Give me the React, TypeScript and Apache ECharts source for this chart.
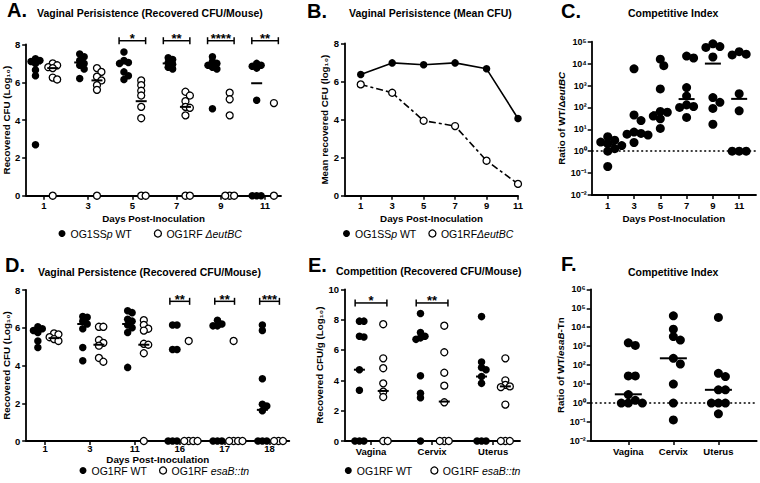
import React, { useEffect, useRef } from "react";
import * as echarts from "echarts";

const FONT = "'Liberation Sans', Arial, Helvetica, sans-serif";

// ---------------- Panel A: Vaginal persistence (recovered CFU / mouse) ----------------
const daysA = ["1", "3", "5", "7", "9", "11"];
const wtA: number[][] = [
  [7.25, 7.15, 7.1, 7.0, 6.65, 6.35, 2.7],
  [7.5, 7.35, 7.15, 7.0, 6.9, 6.7, 6.2],
  [7.6, 7.15, 7.05, 7.0, 6.55, 6.35, 6.15],
  [7.3, 7.2, 7.05, 6.95, 6.8, 6.7],
  [7.35, 7.1, 7.0, 6.9, 6.8, 6.7, 4.6],
  [7.0, 6.9, 6.85, 6.75, 5.05, 0, 0, 0],
];
const mutA: number[][] = [
  [7.0, 6.9, 6.8, 6.75, 6.25, 6.15, 0],
  [6.75, 6.55, 6.3, 6.1, 5.85, 5.6, 0],
  [6.1, 5.85, 5.55, 5.3, 4.7, 4.1, 0, 0],
  [5.5, 5.3, 5.0, 4.7, 4.65, 4.25, 0, 0],
  [5.45, 5.1, 4.25, 0, 0, 0],
  [4.9, 0],
];
const wtAMed: (number | null)[] = [7.0, 7.05, 7.0, 7.0, 6.85, 5.95];
const mutAMed: (number | null)[] = [6.75, 6.1, 5.0, 4.7, null, null];
const sigAGroups = [2, 3, 4, 5];
const sigALabels = ["*", "**", "****", "**"];
const sigALevel = 8.2;

// ---------------- Panel B: mean CFU ----------------
const daysB = [1, 3, 5, 7, 9, 11];
const wtB = [6.37, 6.98, 6.88, 6.98, 6.67, 4.06];
const mutB = [5.85, 5.41, 3.94, 3.66, 1.84, 0.62];

// ---------------- Panel C: competitive index ----------------
const daysC = ["1", "3", "5", "7", "9", "11"];
const ciC: number[][] = [
  [4.6, 3.2, 2.6, 2.2, 1.8, 1.3, 1.0, 0.2],
  [5800, 45, 25, 7.5, 6.5, 6, 5.5, 2.5],
  [16000, 8000, 700, 65, 60, 40, 30, 11],
  [22000, 18000, 800, 330, 130, 110, 100, 35],
  [80000, 60000, 55000, 20000, 280, 170, 90, 17],
  [35000, 27000, 25000, 420, 70, 1, 1, 1],
];
const ciCMed = [2.0, 6.5, 60, 240, 10000, 245];

// ---------------- Panel D: vaginal persistence (esaB) ----------------
const daysD = ["1", "3", "11", "16", "17", "18"];
const wtD: number[][] = [
  [6.05, 5.95, 5.85, 5.75, 5.3, 4.95],
  [6.6, 6.55, 6.35, 6.2, 5.95, 4.95, 4.25],
  [6.9, 6.8, 6.45, 6.35, 6.15, 6.0, 5.75, 3.9],
  [6.15, 6.15, 4.85, 4.85, 0, 0, 0],
  [6.4, 6.2, 6.1, 6.1, 0, 0, 0],
  [6.15, 5.85, 3.3, 1.95, 1.85, 1.6, 0, 0, 0],
];
const mutD: number[][] = [
  [5.7, 5.65, 5.5, 5.4, 5.3],
  [6.05, 6.05, 5.35, 5.2, 5.05, 4.4, 4.2],
  [6.4, 6.15, 5.95, 5.85, 5.15, 5.1, 4.65, 0],
  [5.3, 0, 0, 0, 0],
  [5.3, 0, 0, 0, 0],
  [0, 0, 0],
];
const wtDMed: (number | null)[] = [5.9, 6.2, 6.2, null, null, 1.65];
const mutDMed: (number | null)[] = [5.45, 5.1, 5.1, null, null, null];
const sigDGroups = [3, 4, 5];
const sigDLabels = ["**", "**", "***"];
const sigDLevel = 7.4;

// ---------------- Panel E: competition ----------------
const tissues = ["Vagina", "Cervix", "Uterus"];
const wtE: number[][] = [
  [7.9, 7.9, 6.9, 6.85, 4.7, 3.35, 0, 0, 0],
  [8.4, 7.15, 6.9, 6.8, 6.7, 4.3, 3.15, 2.85, 0],
  [8.2, 5.2, 4.85, 4.7, 4.25, 3.8, 0, 0, 0],
];
const mutE: number[][] = [
  [7.7, 5.45, 4.8, 3.8, 3.25, 2.9, 0, 0],
  [7.6, 5.85, 4.5, 3.65, 2.55, 0, 0, 0],
  [5.45, 4.0, 3.7, 3.6, 3.55, 2.4, 0, 0, 0],
];
const wtEMed = [4.7, 6.75, 4.25];
const mutEMed = [3.3, 2.6, 3.6];
const sigEGroups = [0, 1];
const sigELabels = ["*", "**"];
const sigELevel = 9.1;

// ---------------- Panel F: competitive index ----------------
const ciF: number[][] = [
  [1500, 1100, 27, 27, 2.8, 1.4, 1, 1, 1],
  [40000, 7800, 3200, 2100, 230, 115, 10, 1, 0.13],
  [33000, 37, 25, 5, 5, 1, 1, 1, 0.27],
];
const ciFMed = [2.9, 230, 5];

// ---------------- layout ----------------
const gA = { left: 23, top: 44.5, width: 258, height: 151.2 };
const gB = { left: 345, top: 43.5, width: 173, height: 152.2 };
const gC = { left: 591.7, top: 41.7, width: 164.3, height: 153.3 };
const gD = { left: 22.7, top: 290, width: 266.6, height: 151 };
const gE = { left: 345, top: 289.3, width: 175, height: 151.7 };
const gF = { left: 590.7, top: 289.3, width: 166, height: 151.7 };
const xrA = [-0.4, 5.36];
const xrB = [0, 11];
const xrC = [-0.61, 5.64];
const xrD = [-0.42, 5.44];
const xrE = [-0.426, 2.44];
const xrF = [-0.835, 2.85];

const SUP: Record<string, string> = {
  "-": "\u207B", "0": "\u2070", "1": "\u00B9", "2": "\u00B2", "3": "\u00B3",
  "4": "\u2074", "5": "\u2075", "6": "\u2076", "7": "\u2077", "8": "\u2078", "9": "\u2079",
};
const powLabel = (v: number) =>
  "10" + String(Math.round(Math.log10(v))).split("").map((c) => SUP[c]).join("");

function swarm(values: number[], toPx: (v: number) => number, minDist: number, step: number) {
  const placed: [number, number][] = [];
  return values.map((v) => {
    const y = toPx(v);
    let x = 0;
    for (let i = 0; i < 80; i++) {
      const c = i === 0 ? 0 : (i % 2 ? 1 : -1) * Math.ceil(i / 2) * step;
      if (placed.every(([px, py]) => (px - c) ** 2 + (py - y) ** 2 >= minDist * minDist)) {
        x = c;
        break;
      }
    }
    placed.push([x, y]);
    return x;
  });
}

function groupPoints(
  groups: number[][], off: number, pxPerUnit: number,
  toPx: (v: number) => number, minDist: number, step: number
) {
  const out: number[][] = [];
  groups.forEach((vals, g) => {
    const offs = swarm(vals, toPx, minDist, step);
    vals.forEach((v, i) => out.push([g + off + offs[i] / pxPerUnit, v]));
  });
  return out;
}

const medPoints = (meds: (number | null)[], off: number) =>
  meds.map((m, g) => (m == null ? null : [g + off, m])).filter((d) => d) as number[][];

const lin = (h: number, span: number) => (v: number) => (-v * h) / span;
const lg = (h: number, dec: number) => (v: number) => (-Math.log10(v) * h) / dec;
const ppu = (g: { width: number }, r: number[]) => g.width / (r[1] - r[0]);

const AX = { color: "#000", width: 1.8 };
const tickFont = { fontFamily: FONT, fontSize: 9.5, fontWeight: "bold" as const, color: "#000" };
const nameFont = { fontFamily: FONT, fontSize: 9.8, fontWeight: "bold" as const, color: "#000" };

function xAxis(grid: number, r: number[], ticks: number[], fmt: (v: number) => string, name?: string, nameGap = 18, labelMargin = 5) {
  return {
    type: "value", gridIndex: grid, min: r[0], max: r[1],
    axisLine: { show: true, onZero: false, lineStyle: AX },
    axisTick: { show: true, length: 4, lineStyle: { color: "#000", width: 1.5 }, customValues: ticks },
    axisLabel: { ...tickFont, margin: labelMargin, customValues: ticks, formatter: fmt },
    splitLine: { show: false },
    name: name || "", nameLocation: "middle", nameGap, nameTextStyle: nameFont,
  };
}

function yLin(grid: number, max: number, name: string, nameGap: number) {
  return {
    type: "value", gridIndex: grid, min: 0, max, interval: 2,
    axisLine: { show: true, onZero: false, lineStyle: AX },
    axisTick: { show: true, length: 4, lineStyle: { color: "#000", width: 1.5 } },
    axisLabel: { ...tickFont, margin: 6 },
    splitLine: { show: false },
    name, nameLocation: "middle", nameGap, nameTextStyle: nameFont,
  };
}

function yLog(grid: number, max: number, name: string, nameGap: number) {
  return {
    type: "log", logBase: 10, gridIndex: grid, min: 0.01, max,
    axisLine: { show: true, onZero: false, lineStyle: AX },
    axisTick: { show: true, length: 4, lineStyle: { color: "#000", width: 1.5 } },
    axisLabel: { ...tickFont, fontSize: 9, margin: 5, formatter: powLabel },
    splitLine: { show: false }, minorTick: { show: false },
    name, nameLocation: "middle", nameGap,
    nameTextStyle: {
      ...nameFont,
      rich: { n: { ...nameFont }, i: { ...nameFont, fontStyle: "italic" } },
    },
  };
}

const filled = (name: string, idx: number, data: number[][], size = 7.5) => ({
  type: "scatter", name, xAxisIndex: idx, yAxisIndex: idx, data, symbol: "circle",
  symbolSize: size, itemStyle: { color: "#000", opacity: 1 }, clip: false, z: 3,
});
const open = (name: string, idx: number, data: number[][], size = 7) => ({
  type: "scatter", name, xAxisIndex: idx, yAxisIndex: idx, data, symbol: "circle",
  symbolSize: size, itemStyle: { color: "#fff", borderColor: "#000", borderWidth: 1.3, opacity: 1 },
  clip: false, z: 3,
});
const median = (idx: number, data: number[][], w: number) => ({
  type: "scatter", name: "median" + idx, xAxisIndex: idx, yAxisIndex: idx, data,
  symbol: "rect", symbolSize: [w, 2], itemStyle: { color: "#000", opacity: 1 }, clip: false, z: 4, silent: true,
});
const dotted1 = {
  silent: true, symbol: ["none", "none"], label: { show: false },
  lineStyle: { type: [2, 2.5], color: "#000", width: 1.6 }, data: [{ yAxis: 1 }],
};

function brackets(idx: number, groups: number[], labels: string[], level: number, half: number) {
  return {
    type: "custom", xAxisIndex: idx, yAxisIndex: idx, clip: false, silent: true, z: 5,
    data: groups.map((g) => [g, level]),
    renderItem: (params: any, api: any) => {
      const g = api.value(0);
      const lv = api.value(1);
      const a = api.coord([g - half, lv]);
      const b = api.coord([g + half, lv]);
      const st = { stroke: "#000", lineWidth: 1.5 };
      return {
        type: "group",
        children: [
          { type: "line", shape: { x1: a[0], y1: a[1], x2: b[0], y2: b[1] }, style: st },
          { type: "line", shape: { x1: a[0], y1: a[1] - 3.5, x2: a[0], y2: a[1] + 3.5 }, style: st },
          { type: "line", shape: { x1: b[0], y1: b[1] - 3.5, x2: b[0], y2: b[1] + 3.5 }, style: st },
          {
            type: "text", x: (a[0] + b[0]) / 2, y: a[1] - 2,
            style: {
              text: labels[params.dataIndex], fill: "#000", font: `bold 13px ${FONT}`,
              textAlign: "center", textVerticalAlign: "middle",
            },
          },
        ],
      };
    },
  };
}

const legendNames: Record<string, string> = {
  "OG1SSp WT": "{n|OG1SS}{i|p}{n| WT}",
  "OG1RF \u0394eutBC": "{n|OG1RF }{i|\u0394eutBC}",
  "OG1RF\u0394eutBC": "{n|OG1RF}{i|\u0394eutBC}",
  "OG1RF WT": "{n|OG1RF WT}",
  "OG1RF esaB::tn": "{n|OG1RF }{i|esaB::tn}",
};
const legFont = { fontFamily: FONT, fontSize: 10.5, color: "#000" };
function legend(left: number, top: number, gap: number, a: string, b: string) {
  return {
    left, top, padding: 0, itemGap: gap, itemWidth: 7, itemHeight: 7, orient: "horizontal",
    selectedMode: false,
    data: [
      { name: a, icon: "circle", itemStyle: { color: "#000", borderWidth: 0, opacity: 1 } },
      { name: b, icon: "circle", itemStyle: { color: "#fff", borderColor: "#000", borderWidth: 1.3, opacity: 1 } },
    ],
    formatter: (n: string) => legendNames[n] || n,
    textStyle: { ...legFont, rich: { n: { ...legFont }, i: { ...legFont, fontStyle: "italic" } } },
  };
}

function title(text: string, left: number, top: number, size: number) {
  return {
    text, left, top, padding: 0,
    textStyle: { fontFamily: FONT, fontSize: size, fontWeight: "bold", color: "#000" },
  };
}

function buildOption() {
  const pA = ppu(gA, xrA), pC = ppu(gC, xrC), pD = ppu(gD, xrD), pE = ppu(gE, xrE), pF = ppu(gF, xrF);
  const yA = lin(gA.height, 8), yD = lin(gD.height, 8), yE = lin(gE.height, 10);
  const yC = lg(gC.height, 7), yF = lg(gF.height, 8);
  const idxTicks6 = [0, 1, 2, 3, 4, 5];
  const idxTicks3 = [0, 1, 2];
  const L = (arr: string[]) => (v: number) => arr[Math.round(v)] ?? "";
  const days = "Days Post-Inoculation";

  return {
    animation: false,
    backgroundColor: "#fff",
    title: [
      title("A.", 7, 0, 20),
      title("Vaginal Perisistence (Recovered CFU/Mouse)", 37, 7.5, 10.5),
      title("B.", 307, 0.5, 20),
      title("Vaginal Perisistence (Mean CFU)", 349, 7.5, 10.5),
      title("C.", 561, 1, 20),
      title("Competitive Index", 628, 7.5, 10.5),
      title("D.", 5, 255, 20),
      title("Vaginal Persistence (Recovered CFU/Mouse)", 38, 266.5, 10.5),
      title("E.", 308, 255, 20),
      title("Competition (Recovered CFU/Mouse)", 336, 265.5, 10.5),
      title("F.", 561, 253.5, 20),
      title("Competitive Index", 628, 266, 10.5),
    ],
    legend: [
      legend(58.5, 228, 22, "OG1SSp WT", "OG1RF \u0394eutBC"),
      legend(343, 228, 12, "OG1SSp WT", "OG1RF\u0394eutBC"),
      legend(79.5, 465, 12, "OG1RF WT", "OG1RF esaB::tn"),
      legend(344.8, 465, 18, "OG1RF WT", "OG1RF esaB::tn"),
    ],
    grid: [gA, gB, gC, gD, gE, gF].map((g) => ({ ...g, containLabel: false })),
    xAxis: [
      xAxis(0, xrA, idxTicks6, L(daysA), days),
      xAxis(1, xrB, daysB, (v) => String(v), days),
      xAxis(2, xrC, idxTicks6, L(daysC), days),
      xAxis(3, xrD, idxTicks6, L(daysD), days, 8.5, 2.5),
      xAxis(4, xrE, idxTicks3, L(tissues)),
      xAxis(5, xrF, idxTicks3, L(tissues)),
    ],
    yAxis: [
      yLin(0, 8, "Recovered CFU (Log\u2081\u2080)", 11),
      yLin(1, 8, "Mean recovered CFU (log\u2081\u2080)", 13),
      yLog(2, 100000, "{n|Ratio of WT/\u0394}{i|eutBC}", 24),
      yLin(3, 8, "Recovered CFU (Log\u2081\u2080)", 12),
      yLin(4, 10, "Recovered CFU/g (Log\u2081\u2080)", 17),
      yLog(5, 1000000, "{n|Ratio of WT/}{i|esaB}{n|-Tn}", 22),
    ],
    series: [
      // A
      filled("OG1SSp WT", 0, groupPoints(wtA, -0.19, pA, yA, 4.5, 2.25)),
      open("OG1RF \u0394eutBC", 0, groupPoints(mutA, 0.2, pA, yA, 4.5, 2.25)),
      median(0, medPoints(wtAMed, -0.19), 11),
      median(0, medPoints(mutAMed, 0.2), 11),
      brackets(0, sigAGroups, sigALabels, sigALevel, 0.3),
      // B
      {
        type: "line", name: "OG1SSp WT", xAxisIndex: 1, yAxisIndex: 1,
        data: daysB.map((d, i) => [d, wtB[i]]), symbol: "circle", symbolSize: 7.5,
        itemStyle: { color: "#000", opacity: 1 }, lineStyle: { color: "#000", width: 1.6 }, z: 3,
      },
      {
        type: "line", name: "OG1RF\u0394eutBC", xAxisIndex: 1, yAxisIndex: 1,
        data: daysB.map((d, i) => [d, mutB[i]]), symbol: "circle", symbolSize: 7,
        itemStyle: { color: "#fff", borderColor: "#000", borderWidth: 1.3, opacity: 1 },
        lineStyle: { color: "#000", width: 1.6, type: [7, 3, 3, 3] }, z: 3,
      },
      // C
      { ...filled("ciC", 2, groupPoints(ciC, 0, pC, yC, 7, 3.5), 9), markLine: dotted1 },
      median(2, medPoints(ciCMed, 0), 16),
      // D
      filled("OG1RF WT", 3, groupPoints(wtD, -0.16, pD, yD, 4.5, 2.25)),
      open("OG1RF esaB::tn", 3, groupPoints(mutD, 0.2, pD, yD, 4.5, 2.25)),
      median(3, medPoints(wtDMed, -0.16), 11),
      median(3, medPoints(mutDMed, 0.2), 11),
      brackets(3, sigDGroups, sigDLabels, sigDLevel, 0.22),
      // E
      filled("OG1RF WT", 4, groupPoints(wtE, -0.19, pE, yE, 4.5, 2.25)),
      open("OG1RF esaB::tn", 4, groupPoints(mutE, 0.2, pE, yE, 4.5, 2.25)),
      median(4, medPoints(wtEMed, -0.19), 11),
      median(4, medPoints(mutEMed, 0.2), 11),
      brackets(4, sigEGroups, sigELabels, sigELevel, 0.26),
      // F
      { ...filled("ciF", 5, groupPoints(ciF, 0, pF, yF, 7, 3.5), 9), markLine: dotted1 },
      median(5, medPoints(ciFMed, 0), 27),
    ],
  };
}

export default function App() {
  const ref = useRef<HTMLDivElement>(null);
  useEffect(() => {
    const chart = echarts.init(ref.current as HTMLDivElement, null, { renderer: "svg" });
    chart.setOption(buildOption() as any);
    return () => chart.dispose();
  }, []);
  return (
    <div
      ref={ref}
      style={{ position: "fixed", left: 0, top: 0, width: 760, height: 483, background: "#fff" }}
    />
  );
}
